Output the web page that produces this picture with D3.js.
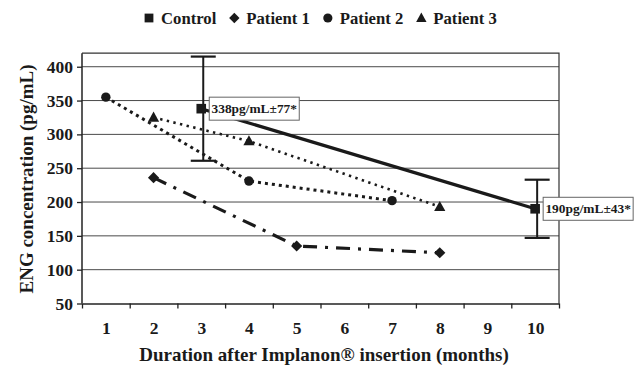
<!DOCTYPE html>
<html>
<head>
<meta charset="utf-8">
<script src="https://cdn.jsdelivr.net/npm/d3@7"></script>
<style>
  html, body { margin: 0; padding: 0; background: #fff; }
  svg { display: block; }
  text { font-family: "Liberation Serif", "Times New Roman", serif; font-weight: bold; fill: #1a1a1a; }
</style>
</head>
<body>
<svg id="chart" width="642" height="367"></svg>
<script>
// Months after insertion (x categories) and y-axis ticks
const months = [1, 2, 3, 4, 5, 6, 7, 8, 9, 10];
const yTicks = [50, 100, 150, 200, 250, 300, 350, 400];

// Control group: mean ± SD
const controlMonths = [3, 10];
const controlValues = [338, 190];
const controlErrors = [77, 43];

// Individual patients
const patient1Months = [2, 5, 8];
const patient1Values = [236, 135, 125];
const patient2Months = [1, 4, 7];
const patient2Values = [355, 231, 202];
const patient3Months = [2, 4, 8];
const patient3Values = [325, 290, 193];

const legendNames = ["Control", "Patient 1", "Patient 2", "Patient 3"];

const svg = d3.select("#chart");
const plot = { left: 82, right: 559, top: 53.2, bottom: 303.5 };

const x = d3.scaleLinear().domain([0.5, 10.5]).range([plot.left, plot.right]);
const y = d3.scaleLinear().domain([50, 420]).range([plot.bottom, plot.top]);

// Horizontal gridlines
svg.append("g")
  .selectAll("line")
  .data(yTicks.slice(1))
  .join("line")
  .attr("x1", plot.left).attr("x2", plot.right)
  .attr("y1", d => y(d)).attr("y2", d => y(d))
  .attr("stroke", "#4a4a4a").attr("stroke-width", 1);

// Plot frame (top and right edges)
svg.append("path")
  .attr("d", `M${plot.left},${plot.top}H${plot.right}V${plot.bottom}`)
  .attr("fill", "none").attr("stroke", "#333").attr("stroke-width", 1.2);

// Y axis
const yAxis = svg.append("g")
  .attr("transform", `translate(${plot.left},0)`)
  .call(d3.axisLeft(y).tickValues(yTicks).tickSize(5).tickPadding(4).tickSizeOuter(0));
yAxis.attr("font-family", null);
yAxis.select(".domain").attr("stroke", "#222").attr("stroke-width", 1.5)
  .attr("d", `M0,${plot.bottom}V${plot.top}`);
yAxis.selectAll(".tick line").attr("stroke", "#222").attr("stroke-width", 1.3);
yAxis.selectAll("text").style("font-size", "17.5px").attr("fill", "#1a1a1a");

// X axis: tick marks at category boundaries
const xTickMarks = svg.append("g")
  .attr("transform", `translate(0,${plot.bottom})`)
  .call(d3.axisBottom(x).tickValues(d3.range(0.5, 10.6, 1)).tickSize(5).tickFormat("").tickSizeOuter(0));
xTickMarks.select(".domain").attr("stroke", "#222").attr("stroke-width", 1.5);
xTickMarks.selectAll(".tick line").attr("stroke", "#222").attr("stroke-width", 1.3);

// X axis: month labels centred in each category
const xLabels = svg.append("g")
  .attr("transform", `translate(0,${plot.bottom})`)
  .call(d3.axisBottom(x).tickValues(months).tickSize(0).tickPadding(18.5).tickFormat(d3.format("d")));
xLabels.attr("font-family", null);
xLabels.select(".domain").remove();
xLabels.selectAll("text").style("font-size", "17.5px").attr("fill", "#1a1a1a");

// Axis titles
svg.append("text")
  .attr("transform", "translate(33,179) rotate(-90)")
  .attr("text-anchor", "middle")
  .style("font-size", "19px")
  .text("ENG concentration (pg/mL)");

svg.append("text")
  .attr("x", 324).attr("y", 361)
  .attr("text-anchor", "middle")
  .style("font-size", "19px")
  .text("Duration after Implanon® insertion (months)");

// Marker shapes
const diamondPath = r => `M0,${-r}L${r},0L0,${r}L${-r},0Z`;
const squarePath = r => `M${-r},${-r}H${r}V${r}H${-r}Z`;
const trianglePath = r => `M0,${-r * 1.05}L${r},${r * 0.75}L${-r},${r * 0.75}Z`;
const circlePath = r => `M${r},0A${r},${r} 0 1,1 ${-r},0A${r},${r} 0 1,1 ${r},0Z`;

const zip = (xs, ys) => xs.map((m, i) => ({ m, v: ys[i] }));
const line = d3.line().x(d => x(d.m)).y(d => y(d.v));

const control = zip(controlMonths, controlValues).map((d, i) => ({ ...d, e: controlErrors[i] }));
const p1 = zip(patient1Months, patient1Values);
const p2 = zip(patient2Months, patient2Values);
const p3 = zip(patient3Months, patient3Values);

// Control error bars
const eb = svg.append("g").attr("stroke", "#1a1a1a");
eb.selectAll("line.v").data(control).join("line")
  .attr("x1", d => x(d.m) + 2).attr("x2", d => x(d.m) + 2)
  .attr("y1", d => y(d.v + d.e)).attr("y2", d => y(d.v - d.e))
  .attr("stroke-width", 2);
eb.selectAll("line.top").data(control).join("line")
  .attr("x1", d => x(d.m) + 2 - 12.5).attr("x2", d => x(d.m) + 2 + 12.5)
  .attr("y1", d => y(d.v + d.e)).attr("y2", d => y(d.v + d.e))
  .attr("stroke-width", 2.2);
eb.selectAll("line.bot").data(control).join("line")
  .attr("x1", d => x(d.m) + 2 - 12.5).attr("x2", d => x(d.m) + 2 + 12.5)
  .attr("y1", d => y(d.v - d.e)).attr("y2", d => y(d.v - d.e))
  .attr("stroke-width", 2.2);

// Series lines
svg.append("path").datum(p3).attr("d", line)
  .attr("fill", "none").attr("stroke", "#1a1a1a").attr("stroke-width", 2.6)
  .attr("stroke-dasharray", "2.4,4.4");
svg.append("path").datum(p2).attr("d", line)
  .attr("fill", "none").attr("stroke", "#1a1a1a").attr("stroke-width", 3)
  .attr("stroke-dasharray", "3,4");
svg.append("path").datum(p1).attr("d", line)
  .attr("fill", "none").attr("stroke", "#1a1a1a").attr("stroke-width", 3.2)
  .attr("stroke-dasharray", "14,8,3,8");
svg.append("path").datum(control).attr("d", line)
  .attr("fill", "none").attr("stroke", "#1a1a1a").attr("stroke-width", 3.2);

// Markers
const drawMarkers = (data, pathFn) =>
  svg.append("g").selectAll("path").data(data).join("path")
    .attr("transform", d => `translate(${x(d.m)},${y(d.v)})`)
    .attr("d", pathFn)
    .attr("fill", "#1a1a1a");

drawMarkers(control, () => squarePath(4.8));
drawMarkers(p1, () => diamondPath(5.6));
drawMarkers(p2, () => circlePath(4.7));
drawMarkers(p3, () => trianglePath(5.6));

// Value labels for the control group
const labels = svg.append("g").selectAll("g").data(control).join("g")
  .attr("transform", d => `translate(${x(d.m) + 8},${y(d.v)})`);
labels.append("rect")
  .attr("x", 0).attr("y", -11.5).attr("width", 90).attr("height", 23)
  .attr("fill", "#fff").attr("stroke", "#666").attr("stroke-width", 1);
labels.append("text")
  .attr("x", 45).attr("y", 4.5)
  .attr("text-anchor", "middle")
  .style("font-size", "13.4px")
  .text(d => `${d.v}pg/mL±${d.e}*`);

// Legend
const legendShapes = [squarePath(4.4), diamondPath(5.2), circlePath(4.6), trianglePath(5.2)];
let lx = 149;
const legend = svg.append("g");
legendNames.forEach((name, i) => {
  legend.append("path")
    .attr("transform", `translate(${lx},18)`)
    .attr("d", legendShapes[i])
    .attr("fill", "#1a1a1a");
  const t = legend.append("text")
    .attr("x", lx + 12).attr("y", 24)
    .style("font-size", "16.7px")
    .text(name);
  lx += 12 + t.node().getComputedTextLength() + 18;
});
</script>
</body>
</html>
